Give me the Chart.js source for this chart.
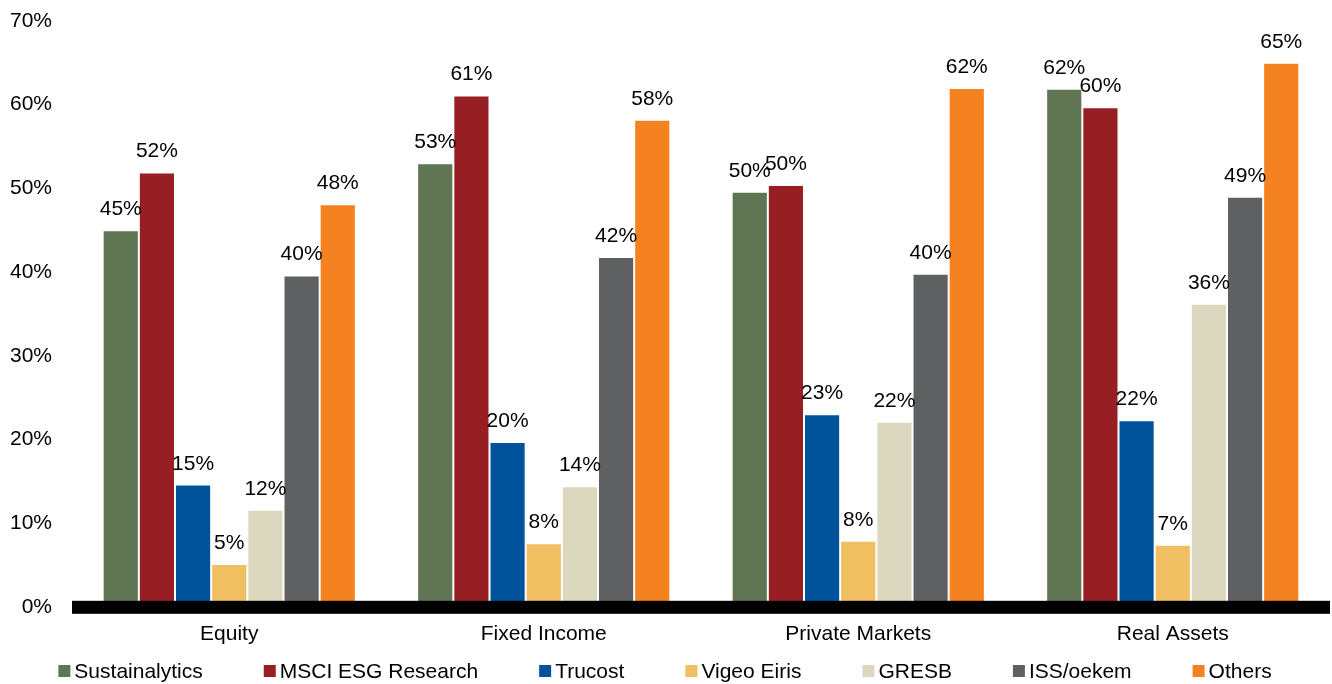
<!DOCTYPE html>
<html>
<head>
<meta charset="utf-8">
<script src="https://cdn.jsdelivr.net/npm/chart.js@4/dist/chart.umd.min.js"></script>
<style>
  html, body { margin: 0; padding: 0; background: #fff; overflow: hidden; }
  #chart { display: block; }
</style>
</head>
<body>
<canvas id="chart" width="1332" height="684" style="width:1332px;height:684px"></canvas>
<script>
// Catégories et séries
const categories = ["Equity", "Fixed Income", "Private Markets", "Real Assets"];
const providers = ["Sustainalytics", "MSCI ESG Research", "Trucost", "Vigeo Eiris", "GRESB", "ISS/oekem", "Others"];
const colors = ["#5f7553", "#971f24", "#00539b", "#f0bf62", "#dcd8bf", "#5f6062", "#f58220"];

const sustainalytics = [45.0, 53.0, 49.6, 61.9];
const msci = [51.9, 61.1, 50.4, 59.7];
const trucost = [14.6, 19.7, 23.0, 22.3];
const vigeo = [5.1, 7.6, 7.9, 7.4];
const gresb = [11.6, 14.4, 22.1, 36.2];
const iss = [39.6, 41.8, 39.8, 49.0];
const others = [48.1, 58.2, 62.0, 65.0];

const yTicks = [0, 10, 20, 30, 40, 50, 60, 70];

const series = [sustainalytics, msci, trucost, vigeo, gresb, iss, others];
const FONT = "'Liberation Sans', Arial, sans-serif";
const FONT_SIZE = 21;

// Ligne d'axe épaisse par-dessus le pied des barres, puis étiquettes
const barLabels = {
    id: "barLabels",
    afterDatasetsDraw(chart) {
        const ctx = chart.ctx;
        const area = chart.chartArea;
        ctx.save();
        ctx.fillStyle = "#000";
        ctx.fillRect(area.left, area.bottom - 6, area.right - area.left, 13);

        ctx.font = FONT_SIZE + "px " + FONT;
        ctx.textAlign = "center";
        ctx.textBaseline = "alphabetic";
        chart.data.datasets.forEach((ds, i) => {
            chart.getDatasetMeta(i).data.forEach((bar, j) => {
                ctx.fillText(Math.round(ds.data[j]) + "%", bar.x, bar.y - 15);
            });
        });
        ctx.restore();
    }
};

// Légende dessinée à la main (espacement façon Excel)
const bottomLegend = {
    id: "bottomLegend",
    afterDraw(chart) {
        const ctx = chart.ctx;
        const box = 12, gapText = 4, gapItem = 61, y = 671;
        ctx.save();
        ctx.font = FONT_SIZE + "px " + FONT;
        ctx.textBaseline = "middle";
        ctx.textAlign = "left";
        const widths = chart.data.datasets.map(ds => box + gapText + ctx.measureText(ds.label).width);
        const total = widths.reduce((a, b) => a + b, 0) + gapItem * (widths.length - 1);
        let x = (chart.width - total) / 2 - 1;
        chart.data.datasets.forEach((ds, i) => {
            ctx.fillStyle = ds.backgroundColor;
            ctx.fillRect(x, y - box / 2, box, box);
            ctx.fillStyle = "#000";
            ctx.fillText(ds.label, x + box + gapText, y + 1);
            x += widths[i] + gapItem;
        });
        ctx.restore();
    }
};

const chart = new Chart(document.getElementById("chart"), {
    type: "bar",
    data: {
        labels: categories,
        datasets: providers.map((name, i) => ({
            label: name,
            data: series[i],
            backgroundColor: colors[i],
            borderColor: "rgba(255,255,255,0.5)",
            borderWidth: 1,
            barPercentage: 1,
            categoryPercentage: 0.805
        }))
    },
    options: {
        responsive: false,
        maintainAspectRatio: false,
        animation: false,
        devicePixelRatio: 1,
        layout: { padding: { left: 10, right: 2, top: 0, bottom: 22 } },
        scales: {
            x: {
                grid: { display: false, drawTicks: false },
                border: { display: false },
                ticks: { color: "#000", font: { family: FONT, size: FONT_SIZE }, padding: 15 }
            },
            y: {
                min: 0,
                max: 70,
                afterBuildTicks(axis) {
                    axis.ticks = yTicks.map(v => ({ value: v }));
                },
                afterFit(axis) {
                    axis.width = 62;
                    axis.paddingTop = 21;
                    axis.paddingBottom = 0;
                },
                grid: { display: false, drawTicks: false },
                border: { display: false },
                ticks: {
                    color: "#000",
                    font: { family: FONT, size: FONT_SIZE },
                    padding: 20,
                    callback: (v) => v + "%"
                }
            }
        },
        plugins: {
            legend: { display: false },
            tooltip: { enabled: false }
        }
    },
    plugins: [barLabels, bottomLegend]
});
</script>
</body>
</html>
